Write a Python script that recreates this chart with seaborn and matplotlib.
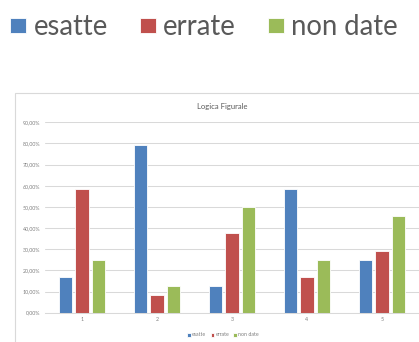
import pandas as pd
import numpy as np
import matplotlib
matplotlib.use("Agg")
import matplotlib.pyplot as plt
import matplotlib.patches as mpatches
from matplotlib.ticker import FuncFormatter, MultipleLocator
import seaborn as sns

categorie = ["1", "2", "3", "4", "5"]
esatte = [0.1667, 0.7917, 0.125, 0.5833, 0.25]
errate = [0.5833, 0.0833, 0.375, 0.1667, 0.2917]
non_date = [0.25, 0.125, 0.50, 0.25, 0.4583]
serie = ["esatte", "errate", "non date"]
colori = ["#4F81BD", "#C0504D", "#9BBB59"]

df = pd.DataFrame({
    "categoria": categorie * 3,
    "serie": np.repeat(serie, len(categorie)),
    "valore": esatte + errate + non_date,
})

sns.set_style("white")
plt.rcParams["font.family"] = ["Lato", "DejaVu Sans"]

fig = plt.figure(figsize=(4.19, 3.42), dpi=100)

# cornice del grafico (tagliata a destra e in basso)
fig.patches.append(mpatches.Rectangle((15 / 419, -0.1), 1.2, (342 - 93) / 342 + 0.1,
                                      transform=fig.transFigure, fill=False,
                                      edgecolor="#D9D9D9", linewidth=0.8))

ax = fig.add_axes([44.5 / 419, 29.3 / 342, 375 / 419, 190.4 / 342])
sns.barplot(data=df, x="categoria", y="valore", hue="serie", palette=colori,
            saturation=1, width=0.66, gap=0.2, edgecolor="white", linewidth=0.6, ax=ax)

ax.set_ylim(0, 0.9)
ax.yaxis.set_major_locator(MultipleLocator(0.1))
ax.yaxis.set_major_formatter(FuncFormatter(lambda v, p: f"{v*100:.2f}%".replace(".", ",")))
ax.grid(axis="y", color="#D9D9D9", linewidth=0.75)
ax.set_axisbelow(True)
for s in ["top", "right", "left"]:
    ax.spines[s].set_visible(False)
ax.spines["bottom"].set_color("#D9D9D9")
ax.spines["bottom"].set_linewidth(0.75)
ax.tick_params(axis="both", length=0, labelsize=3.8, labelcolor="#7F7F7F", pad=3)
ax.set_xlabel("")
ax.set_ylabel("")
ax.set_xlim(-0.5, 4.5)

handles, labels = ax.get_legend_handles_labels()
ax.legend_.remove()

fig.text(222 / 419, 1 - 106.7 / 342, "Logica Figurale", ha="center", va="center",
         fontsize=5.5, color="#595959")

# legenda piccola in basso
fig.legend(handles, labels, loc="center", bbox_to_anchor=(223 / 419, 1 - 335 / 342),
           ncol=3, fontsize=3.8, frameon=False, handlelength=0.7, handleheight=0.7,
           handletextpad=0.2, columnspacing=0.8, labelcolor="#7F7F7F")

# legenda grande in alto
fig.legend(handles, labels, loc="upper left", bbox_to_anchor=(0.0, 1 - 4 / 342),
           ncol=3, fontsize=19.8, frameon=False, handlelength=0.58, handleheight=0.47,
           handletextpad=0.28, columnspacing=1.15, labelcolor="#595959",
           borderaxespad=0, borderpad=0.37)

fig.savefig("out.png", dpi=100)
